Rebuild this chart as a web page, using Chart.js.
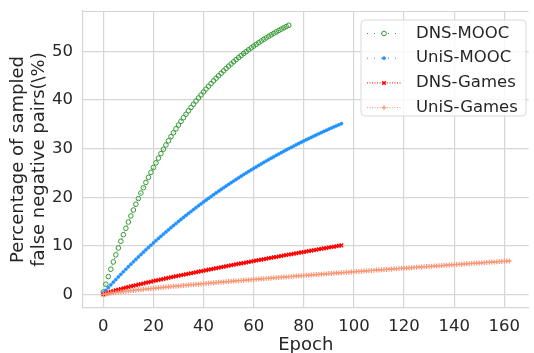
<!DOCTYPE html>
<html>
<head>
<meta charset="utf-8">
<script src="https://cdn.jsdelivr.net/npm/chart.js@4.4.1/dist/chart.umd.min.js"></script>
<style>
  html, body { margin: 0; padding: 0; background: #ffffff; overflow: hidden; }
  #wrap { width: 534px; height: 353px; }
</style>
</head>
<body>
<div id="wrap"><canvas id="c" width="534" height="353"></canvas></div>
<script>
// ---------- data ----------
const epochs = [0,1,2,3,4,5,6,7,8,9,10,11,12,13,14,15,16,17,18,19,20,21,22,23,24,25,26,27,28,29,30,31,32,33,34,35,36,37,38,39,40,41,42,43,44,45,46,47,48,49,50,51,52,53,54,55,56,57,58,59,60,61,62,63,64,65,66,67,68,69,70,71,72,73,74,75,76,77,78,79,80,81,82,83,84,85,86,87,88,89,90,91,92,93,94,95,96,97,98,99,100,101,102,103,104,105,106,107,108,109,110,111,112,113,114,115,116,117,118,119,120,121,122,123,124,125,126,127,128,129,130,131,132,133,134,135,136,137,138,139,140,141,142,143,144,145,146,147,148,149,150,151,152,153,154,155,156,157,158,159,160,161,162];

const seriesNames = ["DNS-MOOC", "UniS-MOOC", "DNS-Games", "UniS-Games"];

const dnsMooc = [0.50,2.11,3.67,5.20,6.69,8.15,9.57,10.95,12.30,13.62,14.90,16.15,17.37,18.56,19.72,20.86,21.96,23.04,24.09,25.11,26.11,27.09,28.04,28.97,29.87,30.75,31.61,32.45,33.27,34.07,34.85,35.61,36.35,37.07,37.78,38.46,39.13,39.79,40.42,41.04,41.65,42.24,42.82,43.38,43.93,44.47,44.99,45.50,45.99,46.48,46.95,47.41,47.86,48.30,48.72,49.14,49.55,49.94,50.33,50.71,51.07,51.43,51.78,52.12,52.46,52.78,53.10,53.41,53.71,54.00,54.29,54.57,54.84,55.10,55.36];

const unisMooc = [0.30,0.87,1.42,1.98,2.53,3.07,3.61,4.14,4.67,5.19,5.71,6.22,6.72,7.22,7.72,8.21,8.70,9.18,9.66,10.13,10.60,11.06,11.52,11.97,12.42,12.86,13.30,13.74,14.17,14.60,15.02,15.44,15.85,16.27,16.67,17.07,17.47,17.87,18.26,18.64,19.03,19.40,19.78,20.15,20.52,20.88,21.24,21.60,21.95,22.30,22.65,22.99,23.33,23.67,24.00,24.33,24.66,24.98,25.30,25.61,25.93,26.24,26.54,26.85,27.15,27.45,27.74,28.04,28.32,28.61,28.89,29.17,29.45,29.73,30.00,30.27,30.54,30.80,31.06,31.32,31.58,31.83,32.08,32.33,32.58,32.82,33.06,33.30,33.54,33.77,34.01,34.24,34.46,34.69,34.91,35.13];

const dnsGames = [0.00,0.22,0.40,0.56,0.72,0.86,1.00,1.14,1.28,1.41,1.54,1.67,1.79,1.92,2.04,2.16,2.28,2.40,2.51,2.63,2.75,2.86,2.97,3.09,3.20,3.31,3.42,3.53,3.64,3.75,3.85,3.96,4.07,4.17,4.28,4.38,4.49,4.59,4.70,4.80,4.90,5.00,5.11,5.21,5.31,5.41,5.51,5.61,5.71,5.81,5.91,6.01,6.10,6.20,6.30,6.40,6.49,6.59,6.69,6.78,6.88,6.98,7.07,7.17,7.26,7.36,7.45,7.54,7.64,7.73,7.83,7.92,8.01,8.11,8.20,8.29,8.38,8.47,8.57,8.66,8.75,8.84,8.93,9.02,9.11,9.21,9.29,9.39,9.48,9.57,9.65,9.75,9.83,9.92,10.01,10.10];

const unisGames = [0.00,0.11,0.20,0.27,0.34,0.41,0.48,0.54,0.60,0.66,0.72,0.78,0.84,0.89,0.95,1.00,1.06,1.11,1.16,1.22,1.27,1.32,1.37,1.42,1.47,1.52,1.57,1.62,1.67,1.71,1.76,1.81,1.86,1.90,1.95,2.00,2.04,2.09,2.13,2.18,2.22,2.27,2.31,2.36,2.40,2.45,2.49,2.53,2.58,2.62,2.66,2.71,2.75,2.79,2.84,2.88,2.92,2.96,3.00,3.05,3.09,3.13,3.17,3.21,3.25,3.29,3.34,3.38,3.42,3.46,3.50,3.54,3.58,3.62,3.66,3.70,3.74,3.78,3.82,3.86,3.90,3.94,3.98,4.02,4.05,4.09,4.13,4.17,4.21,4.25,4.29,4.33,4.36,4.40,4.44,4.48,4.52,4.56,4.59,4.63,4.67,4.71,4.75,4.78,4.82,4.86,4.90,4.93,4.97,5.01,5.04,5.08,5.12,5.16,5.19,5.23,5.27,5.30,5.34,5.38,5.41,5.45,5.49,5.52,5.56,5.59,5.63,5.67,5.70,5.74,5.77,5.81,5.85,5.88,5.92,5.95,5.99,6.03,6.06,6.10,6.13,6.17,6.20,6.24,6.27,6.31,6.34,6.38,6.41,6.45,6.48,6.52,6.55,6.59,6.62,6.66,6.69,6.73,6.76,6.80,6.83,6.87,6.90];

const xTickValues = [0,20,40,60,80,100,120,140,160];
const yTickValues = [0,10,20,30,40,50];

// ---------- styling ----------
const TEXT = '#262626';
const GRID = '#d6d6d6';
const FONT = '"DejaVu Sans", "Liberation Sans", sans-serif';

const styles = [
  { color: '#349a34', pointStyle: 'circle', radius: 2.3, pointBorderWidth: 1, fill: 'rgba(255,255,255,0)', dash: [1, 6], lineWidth: 1 },
  { color: '#1e90ff', pointStyle: 'circle', radius: 1.6, pointBorderWidth: 0.5, fill: '#1e90ff', dash: [1, 6], lineWidth: 1 },
  { color: '#ff0000', pointStyle: 'crossRot', radius: 2.5, pointBorderWidth: 1.4, fill: '#ff0000', dash: [1, 1.5], lineWidth: 1 },
  { color: '#fa9675', pointStyle: 'cross', radius: 2.5, pointBorderWidth: 1.2, fill: '#fa9675', dash: [1, 1.5], lineWidth: 1 }
];

function toPoints(values) {
  return values.map((v, i) => ({ x: epochs[i], y: v }));
}
const allSeries = [dnsMooc, unisMooc, dnsGames, unisGames];

const datasets = allSeries.map((vals, k) => ({
  label: seriesNames[k],
  data: toPoints(vals),
  borderColor: styles[k].color,
  borderWidth: styles[k].lineWidth,
  borderDash: styles[k].dash,
  backgroundColor: styles[k].fill,
  pointStyle: styles[k].pointStyle,
  pointRadius: styles[k].radius,
  pointBorderWidth: styles[k].pointBorderWidth,
  pointBorderColor: styles[k].color,
  pointBackgroundColor: styles[k].fill,
  fill: false,
  tension: 0,
  order: 4 - k
}));

// top frame line (matplotlib spine)
const framePlugin = {
  id: 'frameTop',
  beforeDatasetsDraw(chart) {
    const { ctx, chartArea } = chart;
    ctx.save();
    ctx.strokeStyle = GRID;
    ctx.lineWidth = 1.2;
    ctx.beginPath();
    ctx.moveTo(chartArea.left, chartArea.top + 0.5);
    ctx.lineTo(chartArea.right, chartArea.top + 0.5);
    ctx.stroke();
    ctx.restore();
  }
};

// matplotlib-style legend box
const legendPlugin = {
  id: 'mplLegend',
  afterDraw(chart) {
    const ctx = chart.ctx;
    const bx = 361, by = 20, bw = 165, bh = 96, r = 4;
    ctx.save();
    ctx.beginPath();
    ctx.moveTo(bx + r, by);
    ctx.lineTo(bx + bw - r, by);
    ctx.quadraticCurveTo(bx + bw, by, bx + bw, by + r);
    ctx.lineTo(bx + bw, by + bh - r);
    ctx.quadraticCurveTo(bx + bw, by + bh, bx + bw - r, by + bh);
    ctx.lineTo(bx + r, by + bh);
    ctx.quadraticCurveTo(bx, by + bh, bx, by + bh - r);
    ctx.lineTo(bx, by + r);
    ctx.quadraticCurveTo(bx, by, bx + r, by);
    ctx.closePath();
    ctx.fillStyle = 'rgba(255,255,255,0.8)';
    ctx.fill();
    ctx.strokeStyle = '#d9d9d9';
    ctx.lineWidth = 1;
    ctx.stroke();

    chart.data.datasets.forEach((ds, i) => {
      const st = styles[i];
      const y = 33.5 + i * 24.7;
      ctx.save();
      ctx.strokeStyle = st.color;
      ctx.lineWidth = st.lineWidth;
      ctx.setLineDash(st.dash);
      ctx.beginPath();
      ctx.moveTo(367, y);
      ctx.lineTo(401, y);
      ctx.stroke();
      ctx.restore();
      ctx.save();
      ctx.strokeStyle = st.color;
      ctx.fillStyle = st.fill;
      ctx.lineWidth = st.pointBorderWidth;
      Chart.helpers.drawPoint(ctx, { pointStyle: st.pointStyle, radius: st.radius, rotation: 0, borderWidth: st.pointBorderWidth }, 384, y);
      ctx.restore();
      ctx.fillStyle = TEXT;
      ctx.font = '16.5px ' + FONT;
      ctx.textAlign = 'left';
      ctx.textBaseline = 'middle';
      ctx.fillText(ds.label, 416, y);
    });
    ctx.restore();
  }
};

new Chart(document.getElementById('c').getContext('2d'), {
  type: 'line',
  data: { datasets },
  options: {
    responsive: false,
    animation: false,
    events: [],
    layout: { padding: { top: 11, right: 0, left: 0, bottom: 0 } },
    plugins: { legend: { display: false }, tooltip: { enabled: false } },
    scales: {
      x: {
        type: 'linear',
        min: -8.1,
        max: 169.7,
        afterBuildTicks: s => { s.ticks = xTickValues.map(v => ({ value: v })); },
        afterFit: s => { s.height = 45; s.paddingLeft = 0; s.paddingRight = 0; },
        grid: { color: GRID, lineWidth: 1.2, drawTicks: false },
        border: { color: GRID, width: 1.2 },
        ticks: { padding: 9, color: TEXT, font: { family: FONT, size: 16.5 }, callback: v => String(v) },
        title: { display: true, text: 'Epoch', color: TEXT, font: { family: FONT, size: 18, lineHeight: 0.9 }, padding: { top: 0, bottom: 0 } }
      },
      y: {
        type: 'linear',
        min: -2.78,
        max: 58.3,
        afterBuildTicks: s => { s.ticks = yTickValues.map(v => ({ value: v })); },
        afterFit: s => { s.width = 83; s.paddingTop = 0; s.paddingBottom = 0; },
        grid: { color: GRID, lineWidth: 1.2, drawTicks: false },
        border: { color: GRID, width: 1.2 },
        ticks: { padding: 10, color: TEXT, font: { family: FONT, size: 16.5 }, callback: v => String(v) },
        title: { display: true, text: ['Percentage of sampled', 'false negative pairs(\\%)'], color: TEXT, font: { family: FONT, size: 18, lineHeight: 1.1667 }, padding: { top: 8, bottom: 0 } }
      }
    }
  },
  plugins: [framePlugin, legendPlugin]
});
</script>
</body>
</html>
